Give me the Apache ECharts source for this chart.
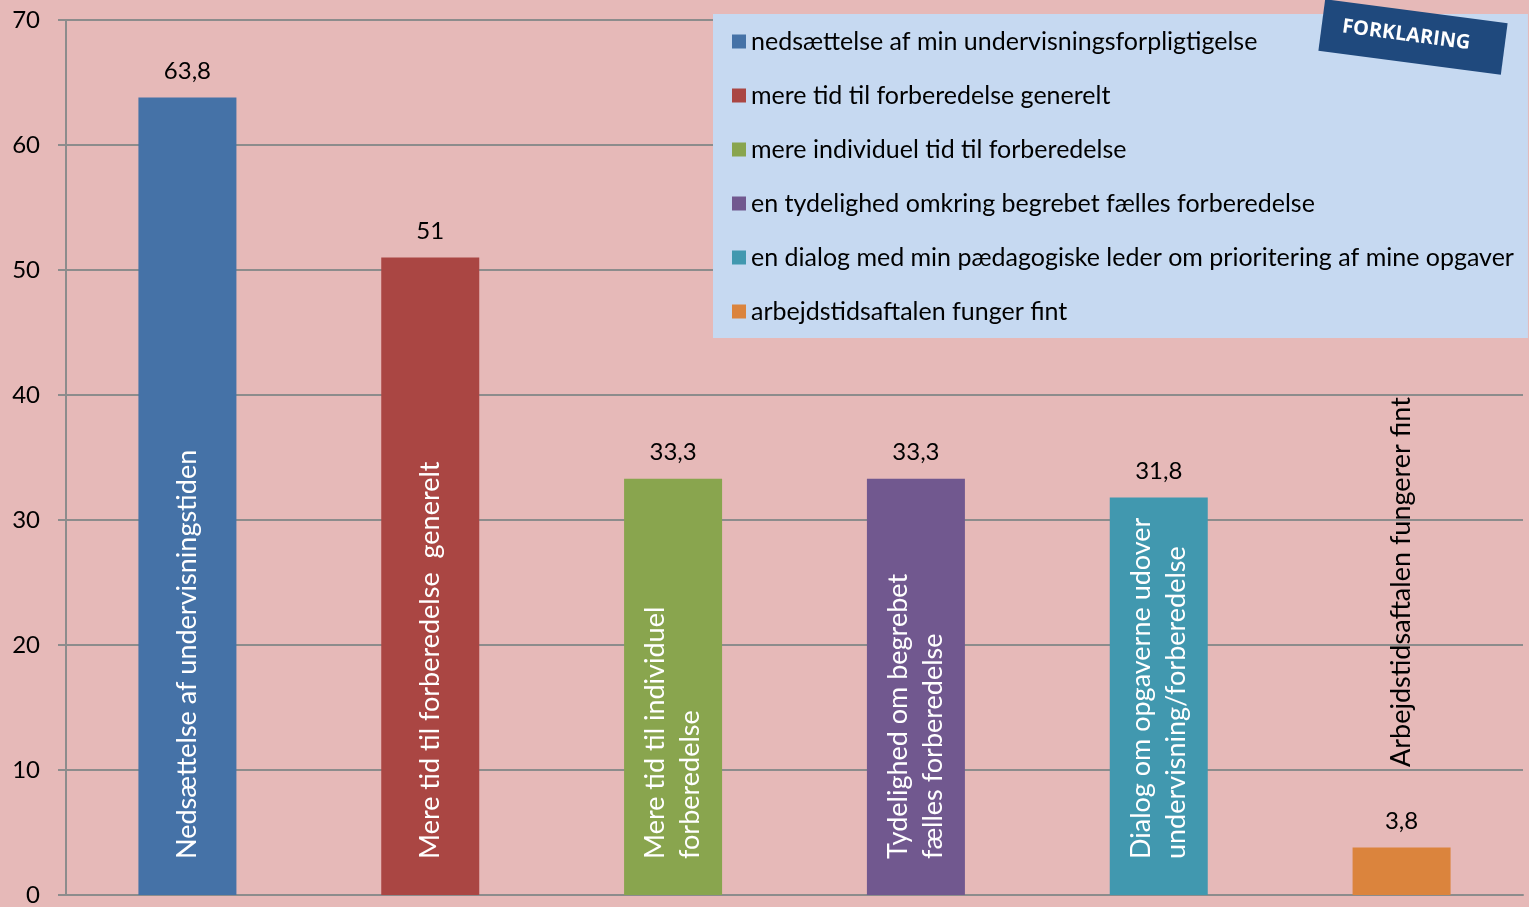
<!DOCTYPE html>
<html>
<head>
<meta charset="utf-8">
<script src="https://cdn.jsdelivr.net/npm/echarts@6/dist/echarts.min.js"></script>
<style>html,body{margin:0;padding:0;background:#E6B9B8;}#chart{width:1529px;height:907px;}</style>
</head>
<body>
<div id="chart"></div>
<script>
const categories = [
  'Nedsættelse af undervisningstiden',
  'Mere tid til forberedelse  generelt',
  'Mere tid til individuel\nforberedelse',
  'Tydelighed om begrebet\nfælles forberedelse',
  'Dialog om opgaverne udover\nundervisning/forberedelse',
  'Arbejdstidsaftalen fungerer fint'
];
const legendNames = [
  'nedsættelse af min undervisningsforpligtigelse',
  'mere tid til forberedelse generelt',
  'mere individuel tid til forberedelse',
  'en tydelighed omkring begrebet fælles forberedelse',
  'en dialog med min pædagogiske leder om prioritering af mine opgaver',
  'arbejdstidsaftalen funger fint'
];
const values = [63.8, 51, 33.3, 33.3, 31.8, 3.8];
const yTicks = [0, 10, 20, 30, 40, 50, 60, 70];
const colors = ['#4572A7', '#AA4643', '#89A54E', '#71588F', '#4198AF', '#DB843D'];
const badgeText = 'FORKLARING';

const FONT = 'Lato';
const chart = echarts.init(document.getElementById('chart'));

const valueSeries = legendNames.map((name, i) => ({
  type: 'bar',
  name: name,
  data: values.map((v, j) => (j === i ? v : null)),
  barWidth: 98,
  barGap: '-100%',
  itemStyle: { color: colors[i] },
  label: {
    show: true,
    position: 'top',
    distance: 14,
    fontFamily: FONT,
    fontSize: 24,
    color: '#000',
    formatter: p => String(p.value).replace('.', ',')
  }
}));

const labelSeries = {
  type: 'bar',
  name: '_labels',
  silent: true,
  data: values.map((v, j) => (j === values.length - 1
    ? { value: v, label: { distance: 128, color: '#000' } }
    : { value: v })),
  barWidth: 98,
  barGap: '-100%',
  itemStyle: { color: 'rgba(0,0,0,0)' },
  z: 5,
  label: {
    show: true,
    position: 'insideBottom',
    rotate: 90,
    align: 'left',
    verticalAlign: 'middle',
    distance: 36,
    fontFamily: FONT,
    fontSize: 27,
    lineHeight: 35,
    color: '#fff',
    formatter: p => categories[p.dataIndex]
  }
};

chart.setOption({
  backgroundColor: '#E6B9B8',
  animation: false,
  grid: { left: 66, right: 6, top: 20, bottom: 11, containLabel: false },
  legend: {
    data: legendNames,
    orient: 'vertical',
    left: 713,
    top: 14,
    selectedMode: false,
    backgroundColor: '#C6D9F1',
    padding: [14, 14, 13, 19],
    itemWidth: 14,
    itemHeight: 14,
    itemGap: 27,
    icon: 'rect',
    z: 4,
    textStyle: { fontFamily: FONT, fontSize: 25, color: '#000', lineHeight: 27 }
  },
  xAxis: {
    type: 'category',
    data: categories,
    axisLine: { lineStyle: { color: '#8C8C8C', width: 2 } },
    axisTick: { show: false },
    axisLabel: { show: false }
  },
  yAxis: {
    type: 'value',
    min: 0,
    max: 70,
    interval: 10,
    axisLine: { show: true, lineStyle: { color: '#8C8C8C', width: 2 } },
    axisTick: { show: true, length: 8, lineStyle: { color: '#8C8C8C', width: 2 } },
    splitLine: { lineStyle: { color: '#8C8C8C', width: 2 } },
    axisLabel: {
      margin: 26,
      fontFamily: FONT,
      fontSize: 24,
      color: '#000',
      formatter: v => (yTicks.includes(v) ? String(v) : '')
    }
  },
  series: [...valueSeries, labelSeries],
  graphic: {
    z: 50,
    zlevel: 1,
    elements: [{
      type: 'group',
      x: 1413,
      y: 37,
      rotation: -7.5 * Math.PI / 180,
      z: 50,
      zlevel: 1,
      children: [
        { type: 'rect', z: 50, zlevel: 1, shape: { x: -92, y: -26, width: 184, height: 52 }, style: { fill: '#1F497D' } },
        { type: 'text', z: 51, zlevel: 1, x: -7, y: -1, style: { text: badgeText, align: 'center', verticalAlign: 'middle', fill: '#fff', font: 'bold 20px "Open Sans"' } }
      ]
    }]
  }
});
</script>
</body>
</html>
